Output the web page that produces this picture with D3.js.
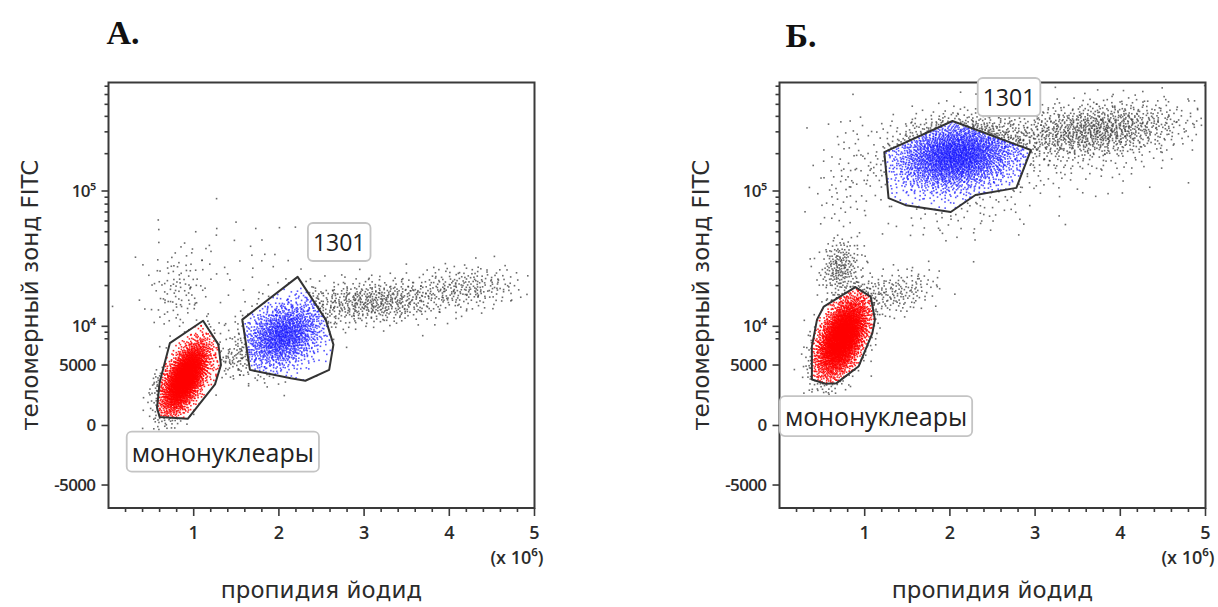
<!DOCTYPE html>
<html><head><meta charset="utf-8">
<script src="https://cdn.jsdelivr.net/npm/d3@7"></script>
<style>body{margin:0;background:#fff}</style>
</head><body>
<svg id="chart" width="1218" height="607"></svg>
<script>
// ---------- data ----------
const panelTitles = ["А.", "Б."];
const xLabel = "пропидия йодид";
const yLabel = "теломерный зонд FITC";
const xUnitLabel = "(x 10⁶)";
const xDomain = [0, 5];
const xTickValues = [1, 2, 3, 4, 5];
const xTickLabels = ["1", "2", "3", "4", "5"];
const xMinorTicks = [0.2,0.4,0.6,0.8,1.2,1.4,1.6,1.8,2.2,2.4,2.6,2.8,3.2,3.4,3.6,3.8,4.2,4.4,4.6,4.8];
const yTickValues = [-5000, 0, 5000, 10000, 100000];
const yTickLabels = ["-5000", "0", "5000", "10⁴", "10⁵"];
const yMinorTicks = [8000, 9000, 20000, 30000, 40000, 50000, 60000, 70000, 80000, 90000,
                     200000, 300000, 400000, 500000, 600000, 700000];
const yAnchors = [-6900, -5000, 0, 5000, 10000, 100000, 750000];
const gateNames = ["мононуклеары", "1301"];

// Panel A gates (x in 10^6, y in fluorescence units)
const gateMonoA = [[1.11,11000],[1.29,7200],[1.32,5000],[1.25,3400],[0.93,550],[0.60,700],[0.57,1450],[0.60,3550],[0.72,7400]];
const gate1301A = [[2.22,23200],[2.55,11200],[2.64,7200],[2.59,4600],[2.31,3700],[2.14,3900],[1.66,4600],[1.57,11200]];
const labelPosA = [[1.342,-2200],[2.708,42000]];
// populations: [x lo, x hi, y lo, y hi (±2 sd extents), correlation, count]
const popsA = [
  [0.62, 1.18, 960, 7600, 0.6, 2600],
  [1.55, 2.55, 4500, 15500, 0.3, 1500],
  [2.30, 3.94, 10430, 22040, 0.1, 560],
  [3.48, 4.88, 13230, 27950, 0.1, 260],
  [0.46, 1.17, 8740, 39270, 0.1, 110],
  [0.37, 2.71, 10260, 78700, 0.0, 55],
  [1.19, 1.66, 3820, 7300, 0.3, 60],
  [0.46, 0.70, 2227, 4916, 0.5, 25]
];

// Panel B
const gateMonoB = [[0.89,19500],[1.07,16600],[1.12,11200],[1.09,8850],[0.93,4900],[0.67,3500],[0.54,3450],[0.38,3800],[0.38,6950],[0.44,11200],[0.52,14000]];
const gate1301B = [[1.23,206000],[2.03,367000],[2.95,214000],[2.78,106000],[2.30,93400],[2.01,70000],[1.48,78600],[1.28,88600]];
const labelPosB = [[1.133,773],[2.694,573000]];
const popsB = [
  [0.43, 1.04, 3990, 16230, 0.5, 3200],
  [1.32, 2.82, 98000, 375000, 0.15, 2800],
  [2.65, 4.76, 184600, 522500, 0.25, 1000],
  [2.12, 4.94, 85990, 542000, 0.3, 220],
  [0.475, 0.945, 16790, 43600, 0.2, 220],
  [0.84, 1.87, 11750, 26540, 0.3, 190],
  [0.35, 1.19, 36700, 450000, 0.3, 90],
  [1.18, 3.06, 39930, 111800, 0.2, 70]
];

// ---------- drawing ----------
const svg = d3.select("#chart");
const TOP = 82.5, H = 425.5, W = 426;
const yFrac = [1, 0.946, 0.806, 0.664, 0.573, 0.255, 0];
const T = v => v <= 5000 ? v : 5000 + (Math.log10(v) - Math.log10(5000)) * 20000;
const yLin = d3.scaleLinear().domain(yAnchors.map(T)).range(yFrac.map(f => TOP + f * H));
const yScale = v => yLin(T(v));

function halton(i, b) { let f = 1, r = 0; while (i > 0) { f /= b; r += f * (i % b); i = Math.floor(i / b); } return r; }

const FONT = "'Open Sans', 'DejaVu Sans', sans-serif";
const TFONT = "'DejaVu Sans', sans-serif";
const INK = "#2b2b2b";

function drawPanel(cfg) {
  const L = cfg.left;
  const x = d3.scaleLinear().domain(xDomain).range([L, L + W]);
  const g = svg.append("g");
  const clipId = "clip" + cfg.id;
  svg.append("clipPath").attr("id", clipId).append("rect")
    .attr("x", L).attr("y", TOP).attr("width", W).attr("height", H);

  // points
  const monoPx = cfg.gateMono.map(d => [x(d[0]), yScale(d[1])]);
  const p1301Px = cfg.gate1301.map(d => [x(d[0]), yScale(d[1])]);
  const pts = [];
  let k = 1 + cfg.seedOffset;
  cfg.pops.forEach(p => {
    const cx = (x(p[0]) + x(p[1])) / 2, sx = Math.abs(x(p[1]) - x(p[0])) / 4;
    const cy = (yScale(p[2]) + yScale(p[3])) / 2, sy = Math.abs(yScale(p[3]) - yScale(p[2])) / 4;
    const rho = p[4];
    for (let i = 0; i < p[5]; i++, k++) {
      const u1 = halton(k, 2), u2 = halton(k, 3);
      const r = Math.sqrt(-2 * Math.log(Math.max(u1, 1e-6)));
      const a = r * Math.cos(2 * Math.PI * u2), b = r * Math.sin(2 * Math.PI * u2);
      const px = cx + sx * a;
      const py = cy - sy * (rho * a + Math.sqrt(1 - rho * rho) * b);
      let c = "k";
      if (d3.polygonContains(monoPx, [px, py])) c = "r";
      else if (d3.polygonContains(p1301Px, [px, py])) c = "b";
      pts.push([px, py, c]);
    }
  });
  const pg = g.append("g").attr("clip-path", `url(#${clipId})`);
  const colors = { k: "#3a3a3a", r: "#ff0000", b: "#1515ff" };
  const opac = { k: 0.75, r: 0.85, b: 0.72 };
  ["k", "b", "r"].forEach(c => {
    pg.append("g").selectAll("rect").data(pts.filter(d => d[2] === c)).join("rect")
      .attr("x", d => d[0] - 0.8).attr("y", d => d[1] - 0.8)
      .attr("width", 1.6).attr("height", 1.6)
      .attr("fill", colors[c]).attr("fill-opacity", opac[c]);
  });

  // gates
  [monoPx, p1301Px].forEach(poly => {
    g.append("path").attr("d", "M" + poly.map(p => p.join(",")).join("L") + "Z")
      .attr("fill", "none").attr("stroke", "#333").attr("stroke-width", 2).attr("stroke-linejoin", "round");
  });

  // frame
  g.append("rect").attr("x", L).attr("y", TOP).attr("width", W).attr("height", H)
    .attr("fill", "none").attr("stroke", "#3a3a3a").attr("stroke-width", 2);

  // x ticks
  g.selectAll(".xmaj").data(xTickValues).join("line")
    .attr("x1", d => x(d)).attr("x2", d => x(d)).attr("y1", TOP + H).attr("y2", TOP + H + 8)
    .attr("stroke", "#3a3a3a").attr("stroke-width", 1.6);
  g.selectAll(".xmin").data(xMinorTicks).join("line")
    .attr("x1", d => x(d)).attr("x2", d => x(d)).attr("y1", TOP + H).attr("y2", TOP + H + 4)
    .attr("stroke", "#3a3a3a").attr("stroke-width", 1.6);
  g.selectAll(".xlab").data(xTickValues).join("text")
    .attr("x", d => x(d)).attr("y", TOP + H + 31).attr("text-anchor", "middle")
    .attr("font-family", FONT).attr("font-size", 18).attr("font-weight", 600).attr("fill", INK)
    .text((d, i) => xTickLabels[i]);
  g.append("text").attr("x", L + W + 9).attr("y", TOP + H + 56).attr("text-anchor", "end")
    .attr("font-family", FONT).attr("font-size", 18).attr("font-weight", 600).attr("fill", INK).text(xUnitLabel);

  // y ticks
  g.selectAll(".ymaj").data(yTickValues).join("line")
    .attr("x1", L - 7).attr("x2", L).attr("y1", d => yScale(d)).attr("y2", d => yScale(d))
    .attr("stroke", "#3a3a3a").attr("stroke-width", 1.6);
  g.selectAll(".ymin").data(yMinorTicks).join("line")
    .attr("x1", L - 4).attr("x2", L).attr("y1", d => yScale(d)).attr("y2", d => yScale(d))
    .attr("stroke", "#3a3a3a").attr("stroke-width", 1.6);
  g.selectAll(".ylab").data(yTickValues).join("text")
    .attr("x", L - 13).attr("y", d => yScale(d) + 6).attr("text-anchor", "end")
    .attr("font-family", FONT).attr("font-size", 17).attr("font-weight", 600).attr("fill", INK)
    .attr("letter-spacing", -0.6)
    .text((d, i) => yTickLabels[i]);

  // axis titles
  g.append("text").attr("x", L + W / 2).attr("y", 598).attr("text-anchor", "middle")
    .attr("font-family", TFONT).attr("font-size", 23).attr("fill", INK).text(xLabel);
  g.append("text").attr("transform", `translate(${L - 71},${TOP + H / 2}) rotate(-90)`)
    .attr("text-anchor", "middle").attr("font-family", TFONT).attr("font-size", 23).attr("fill", INK).text(yLabel);

  // panel title
  g.append("text").attr("x", L + cfg.titleDx).attr("y", cfg.titleY).attr("font-family", "'Liberation Serif', serif")
    .attr("font-weight", "bold").attr("font-size", 34).attr("fill", "#111").text(cfg.title);

  // gate labels
  const sizes = [25, 23];
  cfg.labels.forEach((pos, i) => {
    const cx = x(pos[0]), cy = yScale(pos[1]);
    const lg = g.append("g");
    const rect = lg.append("rect");
    const t = lg.append("text").attr("x", cx).attr("y", cy).attr("text-anchor", "middle")
      .attr("dominant-baseline", "central").attr("font-family", FONT).attr("font-size", sizes[i])
      .attr("fill", "#222").text(gateNames[i]);
    const bb = t.node().getBBox();
    const hh = i === 0 ? 40 : 38;
    rect.attr("x", bb.x - 5).attr("y", cy - hh / 2).attr("width", bb.width + 10).attr("height", hh)
      .attr("rx", 5).attr("fill", "#fff").attr("stroke", "#c4c4c4").attr("stroke-width", 1.8);
  });
}

drawPanel({ id: "A", left: 108.5, title: panelTitles[0], titleDx: -2, titleY: 44, gateMono: gateMonoA, gate1301: gate1301A, labels: labelPosA, pops: popsA, seedOffset: 0 });
drawPanel({ id: "B", left: 779.5, title: panelTitles[1], titleDx: 6, titleY: 47, gateMono: gateMonoB, gate1301: gate1301B, labels: labelPosB, pops: popsB, seedOffset: 20000 });
</script>
</body></html>
